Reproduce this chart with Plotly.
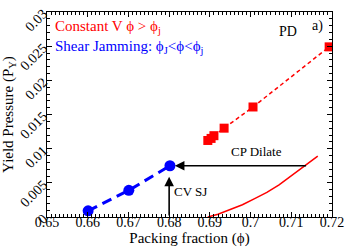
import plotly.graph_objects as go

# Data
cv_phi = [0.6895, 0.6903, 0.6910, 0.6935, 0.7006, 0.7193]
cv_py = [0.0112, 0.0115, 0.0119, 0.0130, 0.0161, 0.0249]

sj_phi = [0.6601, 0.6701, 0.6802]
sj_py = [0.0009, 0.0039, 0.0075]

cp_phi = [0.6895, 0.692, 0.695, 0.698, 0.701, 0.704, 0.707, 0.710, 0.713, 0.7165]
cp_py = [0.0, 0.0004, 0.0011, 0.0018, 0.0027, 0.0036, 0.0047, 0.0060, 0.0074, 0.0089]

x_ticks = [0.65, 0.66, 0.67, 0.68, 0.69, 0.70, 0.71, 0.72]
x_labels = ["0.65", "0.66", "0.67", "0.68", "0.69", "0.7", "0.71", "0.72"]
y_ticks = [0, 0.005, 0.01, 0.015, 0.02, 0.025, 0.03]
y_labels = ["0", "0.005", "0.01", "0.015", "0.02", "0.025", "0.03"]

FONT = "Liberation Serif, Times New Roman, serif"

fig = go.Figure()
fig.add_trace(go.Scatter(x=cp_phi, y=cp_py, mode="lines",
                         line=dict(color="#ff0000", width=1.5), showlegend=False))
fig.add_trace(go.Scatter(x=cv_phi, y=cv_py, mode="lines+markers",
                         line=dict(color="#ff0000", width=1.5, dash="4px,3px"),
                         marker=dict(symbol="square", size=9, color="#ff0000"),
                         showlegend=False))
fig.add_trace(go.Scatter(x=sj_phi, y=sj_py, mode="lines+markers",
                         line=dict(color="#0000ff", width=3, dash="10px,6px"),
                         marker=dict(symbol="circle", size=11, color="#0000ff"),
                         showlegend=False))

# arrows
fig.add_annotation(x=sj_phi[2] + 0.0012, y=sj_py[2], ax=0.7140, ay=sj_py[2],
                   xref="x", yref="y", axref="x", ayref="y", text="",
                   showarrow=True, arrowhead=2, arrowsize=1.2, arrowwidth=1.6,
                   arrowcolor="black")
fig.add_annotation(x=0.680, y=0.0059, ax=0.680, ay=0.0,
                   xref="x", yref="y", axref="x", ayref="y", text="",
                   showarrow=True, arrowhead=2, arrowsize=1.2, arrowwidth=1.6,
                   arrowcolor="black")
fig.add_annotation(x=0.7015, y=0.0096, text="CP Dilate", showarrow=False,
                   font=dict(family=FONT, size=13, color="black"))
fig.add_annotation(x=0.6807, y=0.0038, text="CV SJ", showarrow=False, xanchor="left",
                   font=dict(family=FONT, size=13, color="black"))
fig.add_annotation(x=0.6515, y=0.0278, text="Constant V ϕ > ϕ<sub>j</sub>", showarrow=False,
                   xanchor="left", yanchor="middle",
                   font=dict(family=FONT, size=15, color="#ff0000"))
fig.add_annotation(x=0.6515, y=0.0249, text="Shear Jamming: ϕ<sub>J</sub><ϕ<ϕ<sub>j</sub>",
                   showarrow=False, xanchor="left", yanchor="middle",
                   font=dict(family=FONT, size=15, color="#0000ff"))
fig.add_annotation(x=0.7092, y=0.0272, text="PD", showarrow=False,
                   font=dict(family=FONT, size=14, color="black"))
fig.add_annotation(x=0.7165, y=0.0279, text="a)", showarrow=False,
                   font=dict(family=FONT, size=14, color="black"))

axis_common = dict(showgrid=False, zeroline=False, showline=True, linecolor="black",
                   linewidth=1, mirror="allticks", ticks="inside", ticklen=5,
                   tickcolor="black", automargin=False,
                   tickfont=dict(family=FONT, size=14, color="black"))
fig.update_xaxes(range=[0.65, 0.72], tickvals=x_ticks, ticktext=x_labels,
                 ticklabelstandoff=-8,
                 minor=dict(dtick=0.001, ticks="inside", ticklen=3, tickcolor="black"),
                 title=dict(text="Packing fraction (ϕ)", standoff=0,
                            font=dict(family=FONT, size=15, color="black")),
                 **axis_common)
fig.update_yaxes(range=[0, 0.03], tickvals=y_ticks, ticktext=y_labels, tickangle=-45,
                 minor=dict(dtick=0.001, ticks="inside", ticklen=3, tickcolor="black"),
                 title=dict(text="Yield Pressure (P<sub>Y</sub>)", standoff=0,
                            font=dict(family=FONT, size=15, color="black")),
                 **axis_common)
fig.update_layout(width=345, height=249, margin=dict(l=47, r=13, t=12, b=32),
                  plot_bgcolor="white", paper_bgcolor="white",
                  font=dict(family=FONT))
fig.write_html("out.html", config={"displayModeBar": False},
               post_script="document.body.style.margin='0';")
